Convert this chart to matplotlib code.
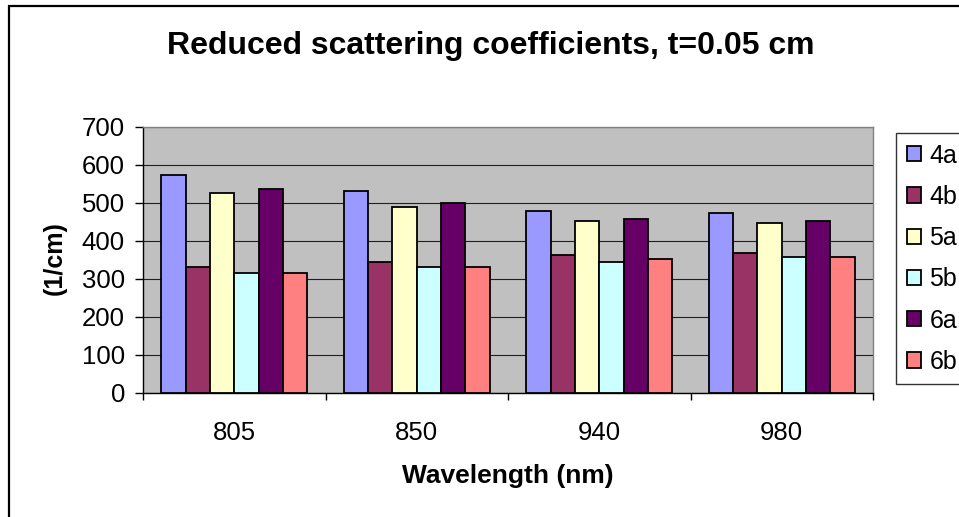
import numpy as np
import matplotlib
matplotlib.use("Agg")
import matplotlib.pyplot as plt
from matplotlib.patches import Rectangle

plt.rcParams["font.family"] = ["Liberation Sans", "DejaVu Sans"]

# reduced scattering coefficient per sample, (1/cm)
wavelengths = ["805", "850", "940", "980"]
samples = ["4a", "4b", "5a", "5b", "6a", "6b"]
mus_4a = [573, 532, 479, 473]
mus_4b = [331, 346, 362, 368]
mus_5a = [526, 489, 453, 447]
mus_5b = [315, 331, 346, 358]
mus_6a = [537, 499, 458, 453]
mus_6b = [315, 331, 352, 358]
series = [mus_4a, mus_4b, mus_5a, mus_5b, mus_6a, mus_6b]
colors = ["#9999FF", "#993366", "#FFFFCC", "#CCFFFF", "#660066", "#FF8080"]

W, H = 959, 517
fig = plt.figure(figsize=(W / 100, H / 100), dpi=100)
fig.patch.set_facecolor("white")

# outer chart frame (only left/top fall inside the image)
fig.patches.append(Rectangle((9 / W, -0.2), 1.3, 1 - 6 / H + 0.2, transform=fig.transFigure,
                             fill=False, edgecolor="black", lw=1.6))

ax = fig.add_axes([143 / W, 1 - 393 / H, 730 / W, 266 / H])
ax.set_facecolor("#C0C0C0")

x = np.arange(len(wavelengths))
w = 1 / 7.5
for i, (vals, c, name) in enumerate(zip(series, colors, samples)):
    ax.bar(x + (i - 2.5) * w, vals, width=w, color=c, edgecolor="black", lw=1.3,
           label=name, zorder=3)

ax.set_xlim(-0.5, len(wavelengths) - 0.5)
ax.set_ylim(0, 700)
ax.set_yticks(np.arange(0, 701, 100))
ax.yaxis.grid(True, color="#202020", lw=0.8, zorder=1)
ax.set_axisbelow(True)

# category boundaries get ticks, labels sit in the middle
ax.set_xticks(np.arange(-0.5, len(wavelengths), 1.0))
ax.set_xticklabels([])
ax.set_xticks(x, minor=True)
ax.set_xticklabels(wavelengths, minor=True)
ax.tick_params(axis="x", which="major", direction="out", length=5, width=1, color="black")
ax.tick_params(axis="x", which="minor", length=0, pad=20, labelsize=18.5)
ax.tick_params(axis="y", direction="out", length=6, width=1, color="black", labelsize=18.5, pad=7)

for s in ["top", "right"]:
    ax.spines[s].set_color("#808080")
    ax.spines[s].set_linewidth(1.0)
for s in ["left", "bottom"]:
    ax.spines[s].set_color("black")
    ax.spines[s].set_linewidth(1.0)

fig.text(491 / W, 1 - 46 / H, "Reduced scattering coefficients, t=0.05 cm",
         ha="center", va="center", fontsize=23, fontweight="bold")
fig.text(508 / W, 1 - 476 / H, "Wavelength (nm)", ha="center", va="center",
         fontsize=19, fontweight="bold")
fig.text(55 / W, 1 - 258 / H, "(1/cm)", ha="center", va="center", rotation=90,
         fontsize=18, fontweight="bold")

leg = fig.legend(loc="upper left", bbox_to_anchor=(896 / W, 1 - 133 / H), frameon=True,
                 fancybox=False, shadow=False, fontsize=18, handlelength=0.56,
                 handleheight=0.56, handletextpad=0.36, labelspacing=0.69,
                 borderpad=0.42, borderaxespad=0)
leg.get_frame().set_edgecolor("black")
leg.get_frame().set_linewidth(1.0)

fig.savefig("out.png", dpi=100)
